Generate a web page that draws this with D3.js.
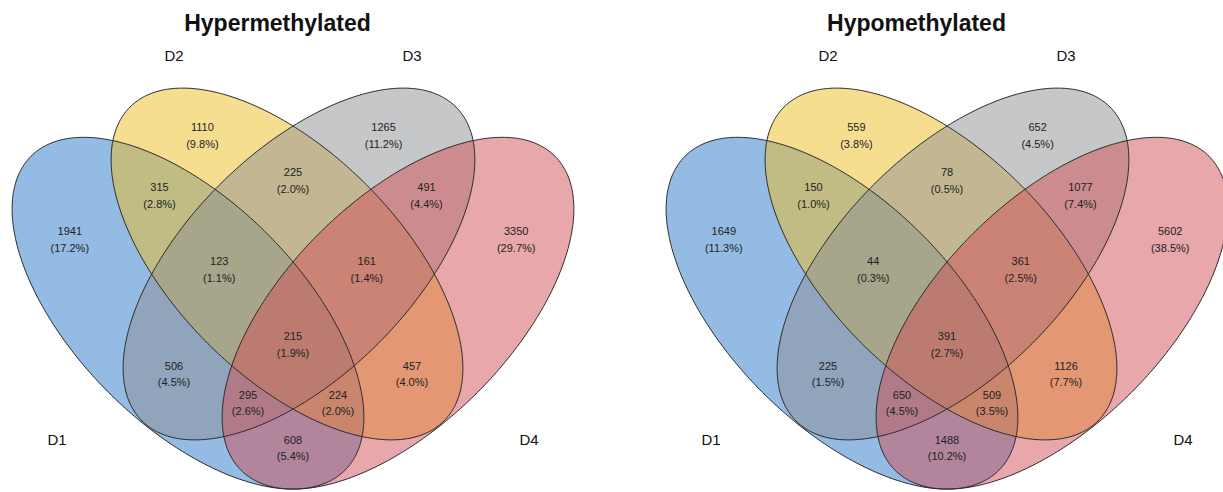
<!DOCTYPE html>
<html>
<head>
<meta charset="utf-8">
<script src="https://cdn.jsdelivr.net/npm/d3@7"></script>
<style>
  html, body { margin: 0; padding: 0; background: #ffffff; }
  svg { display: block; }
</style>
</head>
<body>
<svg id="chart" width="1223" height="492"></svg>
<script>
// ---------------- data ----------------
const categories = ["D1", "D2", "D3", "D4"];
const panelTitles = ["Hypermethylated", "Hypomethylated"];
// region keys: which sets the region belongs to
const regionKeys = ["1", "2", "3", "4", "12", "23", "34", "123", "234", "1234", "13", "24", "134", "124", "14"];
const hyperValues = [1941, 1110, 1265, 3350, 315, 225, 491, 123, 161, 215, 506, 457, 295, 224, 608];
const hypoValues  = [1649, 559, 652, 5602, 150, 78, 1077, 44, 361, 391, 225, 1126, 650, 509, 1488];

// ---------------- layout (unit space of one panel) ----------------
const setColors = ["#2878c8", "#edbd23", "#8d8f93", "#d14f55"];
const ellipses = [
  { cx: 0.325, cy: 0.488, a: 0.370, b: 0.187, rot: -45 },
  { cx: 0.490, cy: 0.570, a: 0.370, b: 0.187, rot: -45 },
  { cx: 0.510, cy: 0.570, a: 0.370, b: 0.187, rot: 45 },
  { cx: 0.675, cy: 0.488, a: 0.370, b: 0.187, rot: 45 }
];
const regionPos = {
  "1":    [0.128, 0.624], "2":   [0.349, 0.7975], "3":   [0.651, 0.7975], "4":  [0.872, 0.624],
  "12":   [0.2775, 0.698], "23": [0.500, 0.7225], "34":  [0.7225, 0.698],
  "123":  [0.377, 0.574], "234": [0.623, 0.574], "1234": [0.500, 0.449],
  "13":   [0.3017, 0.400], "24": [0.6983, 0.400],
  "134":  [0.425, 0.3517], "124": [0.575, 0.3517], "14": [0.500, 0.2767]
};
const catPos = [[0.1067, 0.2767], [0.3017, 0.9167], [0.6983, 0.9167], [0.8933, 0.2767]];
const panels = [
  { center: 293, titleX: 277.5, values: hyperValues, title: panelTitles[0] },
  { center: 947, titleX: 916.5, values: hypoValues, title: panelTitles[1] }
];
const UNIT = 600, Y0 = 606;
const FONT = "'Liberation Sans', Arial, Helvetica, sans-serif";

const svg = d3.select("#chart");

panels.forEach(p => {
  const x = d3.scaleLinear().domain([0, 1]).range([p.center - UNIT / 2, p.center + UNIT / 2]);
  const y = d3.scaleLinear().domain([0, 1]).range([Y0, Y0 - UNIT]);
  const g = svg.append("g");

  const thetas = d3.range(0, 361, 1).map(d => d * Math.PI / 180);
  const ellipsePts = e => {
    const r = e.rot * Math.PI / 180;
    return thetas.map(t => [
      e.cx + e.a * Math.cos(t) * Math.cos(r) - e.b * Math.sin(t) * Math.sin(r),
      e.cy + e.a * Math.cos(t) * Math.sin(r) + e.b * Math.sin(t) * Math.cos(r)
    ]);
  };
  const line = d3.line().x(d => x(d[0])).y(d => y(d[1])).curve(d3.curveLinearClosed);

  // fills
  g.selectAll("path.fill").data(ellipses).join("path")
    .attr("class", "fill")
    .attr("d", e => line(ellipsePts(e)))
    .attr("fill", (e, i) => setColors[i])
    .attr("fill-opacity", 0.5)
    .attr("stroke", "none");
  // outlines
  g.selectAll("path.outline").data(ellipses).join("path")
    .attr("class", "outline")
    .attr("d", e => line(ellipsePts(e)))
    .attr("fill", "none")
    .attr("stroke", "#2b2b2b")
    .attr("stroke-width", 1);

  const total = d3.sum(p.values);
  const labels = regionKeys.map((k, i) => ({ key: k, v: p.values[i] }));
  const lg = g.selectAll("g.region").data(labels).join("g").attr("class", "region");
  lg.append("text")
    .attr("x", d => x(regionPos[d.key][0]))
    .attr("y", d => y(regionPos[d.key][1]))
    .attr("dy", "0.35em")
    .attr("text-anchor", "middle")
    .attr("font-family", FONT).attr("font-size", 11).attr("fill", "#222")
    .text(d => d.v);
  lg.append("text")
    .attr("x", d => x(regionPos[d.key][0]))
    .attr("y", d => y(regionPos[d.key][1]) + 16.5)
    .attr("dy", "0.35em")
    .attr("text-anchor", "middle")
    .attr("font-family", FONT).attr("font-size", 11).attr("fill", "#222")
    .text(d => "(" + (d.v / total * 100).toFixed(1) + "%)");

  g.selectAll("text.cat").data(categories).join("text")
    .attr("class", "cat")
    .attr("x", (c, i) => x(catPos[i][0]))
    .attr("y", (c, i) => y(catPos[i][1]))
    .attr("dy", "0.35em")
    .attr("text-anchor", "middle")
    .attr("font-family", FONT).attr("font-size", 15).attr("fill", "#111")
    .text(c => c);

  g.append("text")
    .attr("x", p.titleX)
    .attr("y", 31)
    .attr("text-anchor", "middle")
    .attr("font-family", FONT).attr("font-size", 23).attr("font-weight", "bold").attr("fill", "#111")
    .text(p.title);
});
</script>
</body>
</html>
